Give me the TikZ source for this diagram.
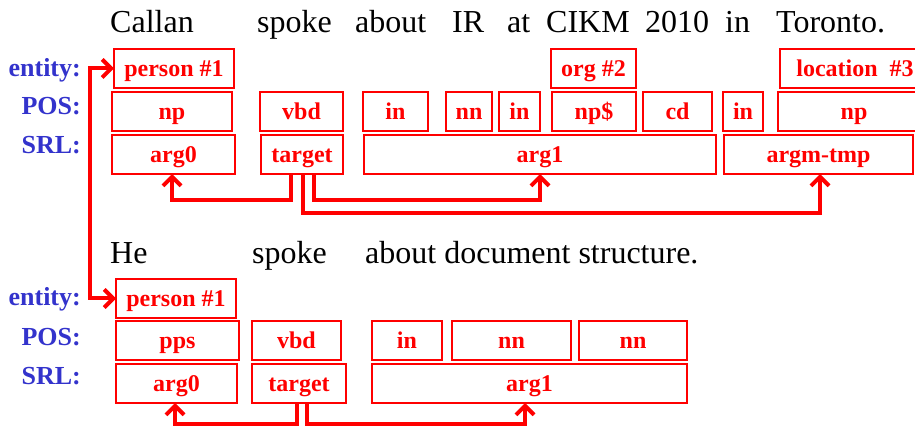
\documentclass[tikz,border=0pt]{standalone}
\usepackage{fontspec}
\setmainfont{Liberation Serif}
\usetikzlibrary{arrows.meta}
\definecolor{cred}{RGB}{255,0,0}
\definecolor{cblue}{RGB}{51,51,204}
\tikzset{
  box/.style={draw=cred, line width=2pt, inner sep=0pt, outer sep=0pt,
    text=cred, font=\fontsize{24}{26}\selectfont\bfseries,
    text height=20pt, text depth=4pt},
  word/.style={anchor=base west, inner sep=0pt, font=\fontsize{32}{34}\selectfont},
  lab/.style={anchor=base east, inner sep=0pt, text=cblue, font=\fontsize{26}{28}\selectfont\bfseries},
  arr/.style={draw=cred, line width=4pt, -{Straight Barb[length=9pt,width=18pt]}},
  darr/.style={draw=cred, line width=4pt, {Straight Barb[length=9pt,width=18pt]}-{Straight Barb[length=9pt,width=18pt]}}
}
\newcommand\bx[6]{\node[box,minimum width={(#4-#2)*1pt},minimum height={(#5-#3)*1pt}] (#1) at ({(#2+#4)/2},{(#3+#5)/2}) {#6};}
\begin{document}
\begin{tikzpicture}[x=1pt,y=-1pt]
\useasboundingbox (0,0) rectangle (915,427);
\clip (0,0) rectangle (915,427);
% sentence 1
\node[word] (w1) at (110,33) {Callan};
\node[word] (w2) at (257,33) {spoke};
\node[word] (w3) at (355,33) {about};
\node[word] (w4) at (452,33) {IR};
\node[word] (w5) at (507,33) {at};
\node[word] (w6) at (546,33) {CIKM};
\node[word] (w7) at (645,33) {2010};
\node[word] (w8) at (725,33) {in};
\node[word] (w9) at (776,33) {Toronto.};
% labels 1
\node[lab] (le1) at (81,77) {entity:};
\node[lab] (lp1) at (81,115) {POS:};
\node[lab] (ls1) at (81,154) {SRL:};
% entity row 1
\bx{pA}{114}{49}{234}{88}{person \#1}
\bx{orgA}{551}{49}{636}{88}{org \#2}
\bx{locA}{780}{49}{930}{88}{location~~\#3}
% POS row 1
\bx{npA}{112}{92}{232}{131}{np}
\bx{vbdA}{260}{92}{343}{131}{vbd}
\bx{inA}{363}{92}{428}{131}{in}
\bx{nnA}{446}{92}{492}{131}{nn}
\bx{inB}{499}{92}{540}{131}{in}
\bx{npdA}{552}{92}{636}{131}{np\$}
\bx{cdA}{643}{92}{712}{131}{cd}
\bx{inC}{723}{92}{763}{131}{in}
\bx{npB}{778}{92}{930}{131}{np}
% SRL row 1
\bx{argzA}{112}{135}{235}{174}{arg0}
\bx{tgtA}{261}{135}{343}{174}{target}
\bx{argoA}{364}{135}{716}{174}{arg1}
\bx{argmA}{724}{135}{913}{174}{argm-tmp}
% arrows 1
\draw[arr] (tgtA.south -| 291,0) -- (291,200) -| (argzA.south -| 172,0);
\draw[arr] (tgtA.south -| 314,0) -- (314,200) -| (argoA.south -| 540,0);
\draw[arr] (tgtA.south -| 303,0) -- (303,213) -| (argmA.south -| 820,0);
% sentence 2
\node[word] (v1) at (110,264) {He};
\node[word] (v2) at (252,264) {spoke};
\node[word] (v3) at (365,264) {about document structure.};
% labels 2
\node[lab] (le2) at (81,306) {entity:};
\node[lab] (lp2) at (81,345) {POS:};
\node[lab] (ls2) at (81,384) {SRL:};
% entity row 2
\bx{pB}{116}{279}{236}{318}{person \#1}
% POS row 2
\bx{ppsB}{116}{321}{239}{360}{pps}
\bx{vbdB}{252}{321}{341}{360}{vbd}
\bx{inD}{372}{321}{442}{360}{in}
\bx{nnB}{452}{321}{571}{360}{nn}
\bx{nnC}{579}{321}{687}{360}{nn}
% SRL row 2
\bx{argzB}{116}{364}{237}{403}{arg0}
\bx{tgtB}{252}{364}{346}{403}{target}
\bx{argoB}{372}{364}{687}{403}{arg1}
% arrows 2
\draw[arr] (tgtB.south -| 297,0) -- (297,424) -| (argzB.south -| 175,0);
\draw[arr] (tgtB.south -| 307,0) -- (307,424) -| (argoB.south -| 525,0);
% coreference
\draw[darr] (pA.west) -- (pA.west -| 90,0) -- (pB.west -| 90,0) -- (pB.west);
\end{tikzpicture}
\end{document}
